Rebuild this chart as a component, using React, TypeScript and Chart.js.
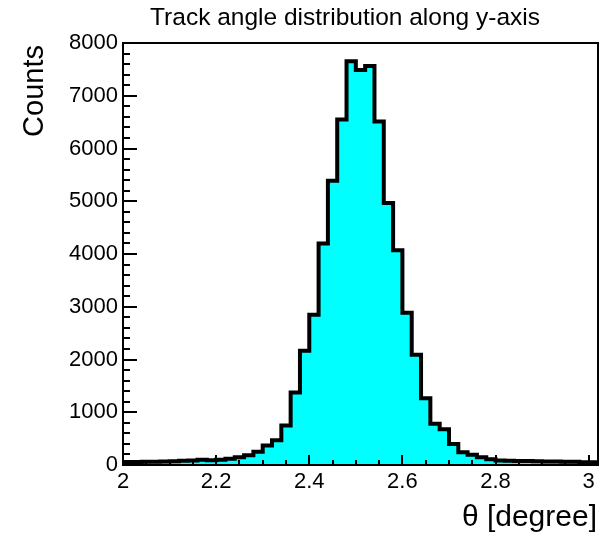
import React, { useEffect, useRef } from "react";
import { Chart, registerables } from "chart.js";

Chart.register(...registerables);

// Bin lower edges (degrees), bin width 0.02
const binLowEdges = [
  2.0, 2.02, 2.04, 2.06, 2.08, 2.1, 2.12, 2.14, 2.16, 2.18,
  2.2, 2.22, 2.24, 2.26, 2.28, 2.3, 2.32, 2.34, 2.36, 2.38,
  2.4, 2.42, 2.44, 2.46, 2.48, 2.5, 2.52, 2.54, 2.56, 2.58,
  2.6, 2.62, 2.64, 2.66, 2.68, 2.7, 2.72, 2.74, 2.76, 2.78,
  2.8, 2.82, 2.84, 2.86, 2.88, 2.9, 2.92, 2.94, 2.96, 2.98,
  3.0,
];
const histUpperEdge = 3.02;

const binCounts = [
  50, 55, 55, 60, 60, 65, 70, 80, 85, 100,
  90, 100, 120, 145, 185, 252, 370, 470, 750, 1375,
  2165, 2850, 4200, 5390, 6550, 7655, 7490, 7565, 6510, 4965,
  4070, 2885, 2090, 1264, 780, 680, 400, 240, 195, 145,
  110, 85, 80, 75, 75, 70, 65, 65, 60, 60,
  50,
];

const xTickValues = [2, 2.2, 2.4, 2.6, 2.8, 3];
const xTickLabels = ["2", "2.2", "2.4", "2.6", "2.8", "3"];
const yTickValues = [0, 1000, 2000, 3000, 4000, 5000, 6000, 7000, 8000];
const yTickLabels = ["0", "1000", "2000", "3000", "4000", "5000", "6000", "7000", "8000"];

const titleText = "Track angle distribution along y-axis";
const xTitleText = "θ [degree]";
const yTitleText = "Counts";

const FONT = "'Liberation Sans', Arial, sans-serif";

const rootStylePlugin = {
  id: "rootStyle",
  afterDatasetsDraw(chart: any) {
    const { ctx, chartArea } = chart;
    const xs = chart.scales.x;
    const ys = chart.scales.y;
    const { left, right, top, bottom } = chartArea;
    ctx.save();
    ctx.strokeStyle = "#000";
    ctx.lineWidth = 2;
    ctx.lineCap = "butt";
    ctx.beginPath();
    for (let v = 0; v <= 8000; v += 200) {
      const py = Math.round(ys.getPixelForValue(v));
      const major = v % 1000 === 0;
      const len = major ? 14 : 7;
      ctx.moveTo(left, py);
      ctx.lineTo(left + len, py);
    }
    for (let i = 0; i <= 20; i++) {
      const v = 2 + i * 0.05;
      const px = Math.round(xs.getPixelForValue(v));
      const major = i % 4 === 0;
      const len = major ? 10 : 5;
      ctx.moveTo(px, bottom);
      ctx.lineTo(px, bottom - len);
    }
    ctx.stroke();
    ctx.lineWidth = 2;
    ctx.strokeRect(left, top, right - left, bottom - top);
    ctx.restore();
  },
  afterDraw(chart: any) {
    const { ctx } = chart;
    ctx.save();
    ctx.fillStyle = "#000";
    ctx.font = `24.5px ${FONT}`;
    ctx.textAlign = "center";
    ctx.textBaseline = "alphabetic";
    ctx.fillText(titleText, 345, 25);
    ctx.font = `30px ${FONT}`;
    ctx.textAlign = "right";
    ctx.fillText(xTitleText, 597, 526);
    ctx.translate(43, 45);
    ctx.rotate(-Math.PI / 2);
    ctx.font = `29px ${FONT}`;
    ctx.textAlign = "right";
    ctx.fillText(yTitleText, 0, 0);
    ctx.restore();
  },
};

export default function App() {
  const canvasRef = useRef<HTMLCanvasElement | null>(null);

  useEffect(() => {
    document.body.style.margin = "0";
    const canvas = canvasRef.current;
    if (!canvas) return;

    const points: { x: number; y: number }[] = [{ x: binLowEdges[0], y: 0 }];
    binLowEdges.forEach((e, i) => points.push({ x: e, y: binCounts[i] }));
    points.push({ x: histUpperEdge, y: binCounts[binCounts.length - 1] });
    points.push({ x: histUpperEdge, y: 0 });

    const chart = new Chart(canvas, {
      type: "line",
      data: {
        datasets: [
          {
            data: points,
            stepped: "after",
            fill: "origin",
            backgroundColor: "#00FFFF",
            borderColor: "#000000",
            borderWidth: 4,
            borderJoinStyle: "miter",
            pointRadius: 0,
            pointHoverRadius: 0,
          },
        ],
      },
      options: {
        responsive: false,
        animation: false,
        events: [],
        layout: { padding: { left: 0, top: 43, right: 18, bottom: 0 } },
        plugins: {
          legend: { display: false },
          title: { display: false },
          tooltip: { enabled: false },
        },
        scales: {
          x: {
            type: "linear",
            min: 2,
            max: histUpperEdge,
            grid: { display: false, drawTicks: false },
            border: { display: false },
            afterBuildTicks: (scale: any) => {
              scale.ticks = xTickValues.map((v) => ({ value: v }));
            },
            afterFit: (scale: any) => {
              scale.height = 69;
            },
            ticks: {
              autoSkip: false,
              maxRotation: 0,
              minRotation: 0,
              padding: 4,
              color: "#000",
              font: { family: FONT, size: 22 },
              callback: (value: any) => {
                const idx = xTickValues.findIndex((v) => Math.abs(v - Number(value)) < 1e-9);
                return idx >= 0 ? xTickLabels[idx] : "";
              },
            },
          },
          y: {
            type: "linear",
            min: 0,
            max: 8000,
            grid: { display: false, drawTicks: false },
            border: { display: false },
            afterBuildTicks: (scale: any) => {
              scale.ticks = yTickValues.map((v) => ({ value: v }));
            },
            afterFit: (scale: any) => {
              scale.width = 123;
            },
            ticks: {
              autoSkip: false,
              padding: 5,
              color: "#000",
              font: { family: FONT, size: 22 },
              callback: (value: any) => {
                const idx = yTickValues.findIndex((v) => v === Number(value));
                return idx >= 0 ? yTickLabels[idx] : "";
              },
            },
          },
        },
      },
      plugins: [rootStylePlugin],
    });
    return () => chart.destroy();
  }, []);

  return (
    <div style={{ width: 616, height: 534, background: "#fff" }}>
      <canvas ref={canvasRef} width={616} height={534} style={{ display: "block" }} />
    </div>
  );
}
